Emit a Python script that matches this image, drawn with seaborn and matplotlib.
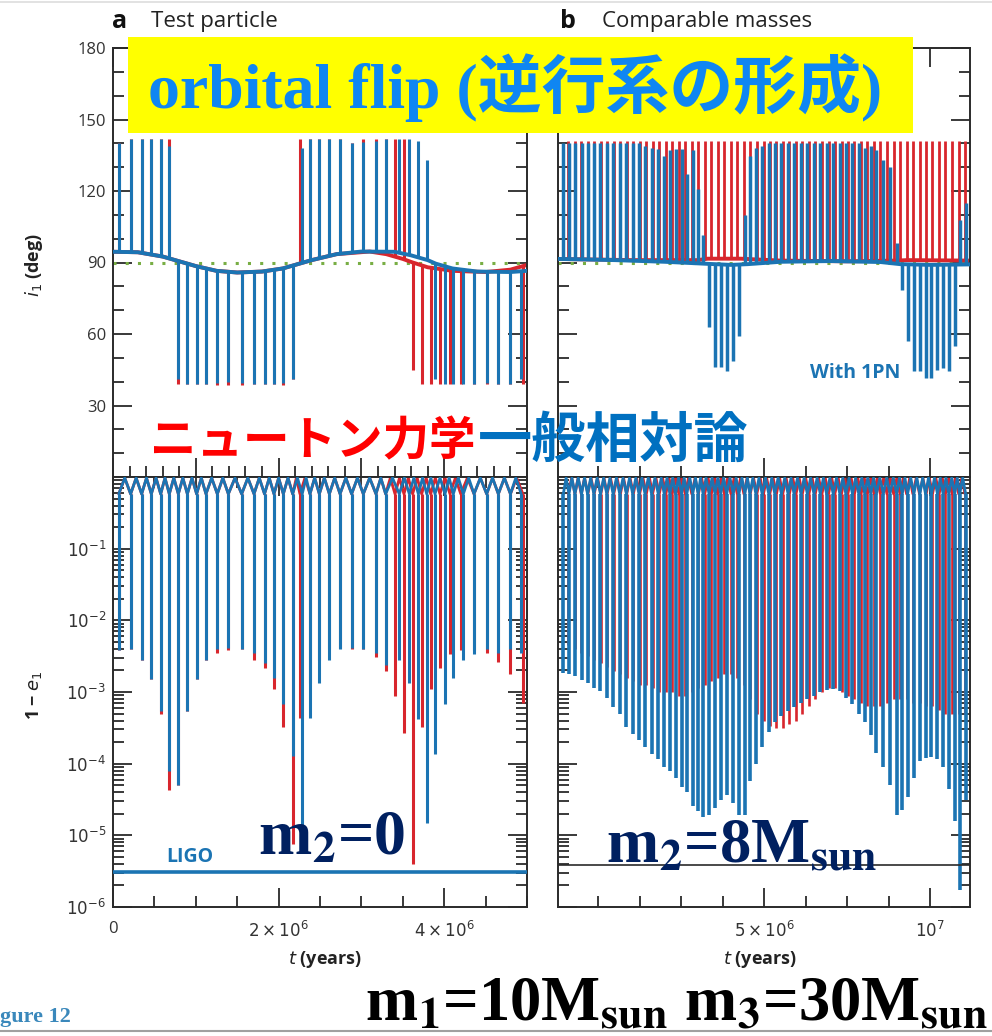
import numpy as np
import matplotlib
matplotlib.use("Agg")
import matplotlib.pyplot as plt
from matplotlib.patches import Rectangle
from matplotlib.ticker import LogLocator, NullFormatter, MultipleLocator, FixedLocator
import seaborn as sns

# ── data (time in units of 1e6 years) ─────────────────────────

# panel a, Newtonian (red) and with 1PN (blue): spike times,
# inclination extreme of each flip, log10(1-e) minimum of each spike
a_blue_t = [0.070, 0.213, 0.346, 0.463, 0.576, 0.680, 0.789, 0.898, 1.010, 1.123,
            1.260, 1.393, 1.554, 1.703, 1.830, 1.944, 2.057, 2.170, 2.285, 2.379,
            2.492, 2.613, 2.742, 2.882, 3.023, 3.176, 3.293, 3.458, 3.579, 3.688,
            3.789, 3.889, 4.010, 4.110, 4.231, 4.360, 4.513, 4.654, 4.800, 4.930]
a_blue_tip = [140, 142, 142, 142, 142, 139, 41, 39, 39, 39,
              39.5, 40, 39.5, 39, 39, 39, 39.5, 41, 138, 142,
              142, 142, 142, 140, 140.5, 141, 142, 142, 142, 141,
              133, 41, 39, 39, 39, 39, 39.5, 39, 39, 41]
a_blue_emin = [-2.42, -2.40, -2.56, -2.82, -3.26, -4.10, -4.30, -3.26, -2.82, -2.56,
               -2.40, -2.38, -2.40, -2.46, -2.60, -2.80, -3.17, -3.89, -4.95, -3.36,
               -2.87, -2.56, -2.40, -2.38, -2.40, -2.46, -2.62, -2.56, -2.87, -3.38,
               -4.83, -3.86, -3.17, -2.80, -2.56, -2.47, -2.40, -2.45, -2.40, -2.45]

a_red_t = [0.070, 0.213, 0.346, 0.463, 0.576, 0.680, 0.789, 0.898, 1.010, 1.123,
           1.260, 1.393, 1.554, 1.703, 1.830, 1.944, 2.057, 2.170, 2.258, 2.379,
           2.492, 2.613, 2.742, 2.882, 3.023, 3.176, 3.293, 3.406, 3.514, 3.619,
           3.728, 3.837, 3.949, 4.070, 4.200, 4.360, 4.513, 4.654, 4.800, 4.950]
a_red_tip = [140, 142, 142, 142, 142, 142, 39, 39, 39, 39,
             38.7, 38.7, 38.7, 39, 39, 39, 38.7, 41, 142, 142,
             142, 142, 142, 140, 142, 142, 142, 142, 142, 44.7,
             39, 39, 39, 39, 39, 39, 39, 39, 39, 39]
a_red_emin = [-2.42, -2.40, -2.56, -2.82, -3.30, -4.37, -4.30, -3.26, -2.82, -2.56,
              -2.45, -2.42, -2.40, -2.55, -2.66, -2.96, -3.49, -5.12, -3.36, -2.87,
              -2.56, -2.40, -2.38, -2.40, -2.40, -2.51, -2.70, -3.05, -3.57, -5.40,
              -3.49, -2.96, -2.66, -2.47, -2.42, -2.42, -2.45, -2.58, -2.75, -3.16]

# slow inclination trend between flips
a_blue_base_t = [0.0, 0.3, 0.6, 0.75, 0.85, 1.0, 1.25, 1.5, 1.8, 2.05, 2.25,
                 2.4, 2.7, 3.0, 3.4, 3.6, 3.8, 3.9, 4.1, 4.4, 4.8, 5.0]
a_blue_base = [94.5, 94.3, 92.5, 91.0, 90.0, 88.5, 86.5, 85.8, 86.2, 87.5, 89.5,
               91.0, 93.5, 94.6, 94.5, 93.0, 91.0, 89.5, 87.5, 86.2, 86.0, 86.5]
a_red_base_t = [0.0, 0.3, 0.6, 0.75, 0.85, 1.0, 1.25, 1.5, 1.8, 2.05, 2.25,
                2.4, 2.7, 3.1, 3.3, 3.5, 3.62, 3.8, 4.1, 4.5, 4.8, 5.0]
a_red_base = [94.5, 94.3, 92.5, 91.0, 90.0, 88.5, 86.5, 85.8, 86.2, 87.5, 89.5,
              91.0, 93.5, 94.6, 93.5, 91.5, 90.0, 88.0, 86.5, 86.0, 87.0, 89.0]

# panel b, comparable masses
b_blue_t = [-1.05, -0.88, -0.70, -0.50, -0.32, -0.13, 0.07, 0.26, 0.45, 0.65,
            0.85, 1.04, 1.23, 1.41, 1.61, 1.81, 1.99, 2.16, 2.33, 2.51,
            2.67, 2.85, 3.01, 3.16, 3.34, 3.52, 3.69, 3.87, 4.07, 4.24,
            4.42, 4.57, 4.75, 4.94, 5.14, 5.32, 5.52, 5.72, 5.90, 6.11,
            6.30, 6.50, 6.69, 6.88, 7.08, 7.28, 7.46, 7.66, 7.85, 8.03,
            8.21, 8.38, 8.59, 8.79, 8.99, 9.16, 9.32, 9.51, 9.69, 9.86,
            10.04, 10.22, 10.39, 10.56, 10.74, 10.89, 11.07]
b_blue_tip = [140, 140, 140, 140, 140, 140, 140, 140, 140, 140,
              140, 140, 140, 139, 138, 137.5, 134.5, 137, 137.5, 137.5,
              127, 137, 121, 101.6, 63, 46, 46, 44.5, 48.5, 59,
              110, 134.5, 138, 139, 140, 140, 140, 140, 140, 140,
              140, 140, 140, 140, 140, 140, 140, 140, 140, 138,
              139, 137, 133, 130, 98, 78.6, 57, 44.4, 44.4, 41.5,
              41.5, 45, 45.8, 44.4, 54.8, 108, 115]
b_blue_emin = [-2.73, -2.75, -2.78, -2.83, -2.88, -2.94, -2.98, -3.08, -3.21, -3.31,
               -3.49, -3.58, -3.67, -3.77, -3.87, -3.94, -4.04, -4.10, -4.20, -4.33,
               -4.40, -4.59, -4.66, -4.75, -4.72, -4.62, -4.50, -4.44, -4.55, -4.72,
               -4.72, -4.24, -4.00, -3.77, -3.56, -3.42, -3.33, -3.26, -3.21, -3.15,
               -3.10, -3.05, -3.00, -2.97, -2.96, -2.99, -3.08, -3.17, -3.30, -3.42,
               -3.60, -3.85, -4.05, -4.30, -4.72, -4.65, -4.46, -4.20, -3.96, -3.92,
               -3.90, -3.93, -4.05, -4.35, -4.80, -5.76, -4.50]

b_red_t = [-0.90, -0.70, -0.51, -0.31, -0.12, 0.08, 0.27, 0.47, 0.67, 0.86,
           1.06, 1.25, 1.45, 1.64, 1.84, 2.04, 2.23, 2.43, 2.62, 2.82,
           3.02, 3.21, 3.41, 3.60, 3.80, 4.00, 4.19, 4.39, 4.58, 4.78,
           4.98, 5.17, 5.37, 5.56, 5.76, 5.96, 6.15, 6.35, 6.54, 6.74,
           6.94, 7.13, 7.33, 7.52, 7.72, 7.92, 8.11, 8.31, 8.50, 8.70,
           8.90, 9.09, 9.29, 9.48, 9.68, 9.88, 10.07, 10.27, 10.46, 10.66,
           10.86, 11.05]
b_red_tip = [141, 141, 141, 141, 141, 141, 141, 141, 141, 141,
             141, 141, 141, 141, 141, 141, 141, 141, 141, 141,
             141, 141, 141, 141, 141, 141, 141, 141, 141, 141,
             141, 141, 141, 141, 141, 141, 141, 141, 141, 141,
             141, 141, 141, 141, 141, 141, 141, 141, 141, 141,
             141, 141, 141, 141, 141, 141, 141, 141, 141, 141,
             141, 141]
b_red_emin = [-2.35, -2.40, -2.45, -2.50, -2.55, -2.60, -2.65, -2.70, -2.75, -2.80,
              -2.85, -2.90, -2.90, -2.95, -3.00, -3.00, -3.00, -3.05, -3.05, -3.00,
              -2.95, -2.90, -2.85, -2.80, -2.75, -2.75, -2.80, -2.90, -3.10, -3.30,
              -3.40, -3.48, -3.50, -3.50, -3.45, -3.40, -3.30, -3.20, -3.10, -3.00,
              -2.95, -2.95, -3.00, -3.05, -3.10, -3.15, -3.20, -3.20, -3.20, -3.15,
              -3.10, -3.10, -3.10, -3.15, -3.15, -3.20, -3.20, -3.25, -3.30, -3.30,
              -3.30, -3.30]

b_blue_base_t = [-1.21, 0.5, 2.0, 3.2, 4.0, 4.5, 5.5, 7.0, 8.5, 9.1, 10.0, 11.2]
b_blue_base = [91.5, 91.0, 90.3, 89.5, 89.0, 89.3, 90.3, 90.6, 90.2, 89.3, 89.0, 89.2]
b_red_base_t = [-1.21, 1.0, 3.0, 3.3, 4.3, 5.5, 7.5, 9.0, 9.3, 11.2]
b_red_base = [91.5, 91.0, 91.0, 91.6, 91.6, 90.8, 90.5, 90.8, 91.0, 90.8]

ligo_level = 3.1e-6
b_ref_level = 3.9e-6

RED = "#d8262d"
BLUE = "#1b74b3"
GREEN = "#78ae44"
INK = "#2a2a2a"

W, H = 992, 1036

sns.set_theme(style="white")
plt.rcParams["font.family"] = ["Open Sans", "DejaVu Sans"]
plt.rcParams["axes.edgecolor"] = INK
plt.rcParams["axes.linewidth"] = 1.4

fig = plt.figure(figsize=(W / 100, H / 100), dpi=100)


def box(left, top, right, bottom):
    return [left / W, 1 - bottom / H, (right - left) / W, (bottom - top) / H]


ax_a1 = fig.add_axes(box(113, 48, 527, 477))
ax_a2 = fig.add_axes(box(113, 477, 527, 907))
ax_b1 = fig.add_axes(box(558, 48, 970, 477))
ax_b2 = fig.add_axes(box(558, 477, 970, 907))


def draw_incl(ax, t, tip, bt, bv, color, z, lw=2.2):
    t = np.asarray(t)
    base = np.interp(t, bt, bv)
    ax.vlines(t, base, tip, color=color, lw=lw, zorder=z)
    sns.lineplot(x=bt, y=bv, ax=ax, color=color, lw=2.8, zorder=z,
                 estimator=None, legend=False)


def draw_ecc(ax, t, emin, color, z, lw=2.2):
    t = np.asarray(t)
    lo = 10.0 ** np.asarray(emin)
    ax.vlines(t, lo, 0.58, color=color, lw=lw, zorder=z)
    # little arches between the eccentricity spikes, near e = 0
    mids = (t[:-1] + t[1:]) / 2
    xs = np.concatenate([t, mids])
    ys = np.concatenate([np.full(t.size, 0.58), np.full(mids.size, 0.97)])
    order = np.argsort(xs)
    sns.lineplot(x=xs[order], y=ys[order], ax=ax, color=color, lw=2.0,
                 zorder=z, estimator=None, sort=False, legend=False)


for ax in (ax_a1, ax_b1):
    ax.axhline(90, color=GREEN, lw=2.2, ls=(0, (1, 3)), zorder=1)

draw_incl(ax_a1, a_red_t, a_red_tip, a_red_base_t, a_red_base, RED, 2)
draw_incl(ax_a1, a_blue_t, a_blue_tip, a_blue_base_t, a_blue_base, BLUE, 3)
draw_incl(ax_b1, b_red_t, b_red_tip, b_red_base_t, b_red_base, RED, 2, lw=2.0)
draw_incl(ax_b1, b_blue_t, b_blue_tip, b_blue_base_t, b_blue_base, BLUE, 3, lw=2.5)

draw_ecc(ax_a2, a_red_t, a_red_emin, RED, 2)
draw_ecc(ax_a2, a_blue_t, a_blue_emin, BLUE, 3)
draw_ecc(ax_b2, b_red_t, b_red_emin, RED, 2, lw=1.9)
draw_ecc(ax_b2, b_blue_t, b_blue_emin, BLUE, 3, lw=2.6)

ax_a2.axhline(ligo_level, color=BLUE, lw=2.6, zorder=4)
ax_b2.axhline(b_ref_level, color=INK, lw=1.2, zorder=4)

# ── axes, ticks ──────────────────────────────────────────────
for ax in (ax_a1, ax_b1):
    ax.set_ylim(0, 180)
    ax.yaxis.set_major_locator(FixedLocator([30, 60, 90, 120, 150, 180]))
    ax.yaxis.set_minor_locator(MultipleLocator(10))

for ax in (ax_a2, ax_b2):
    ax.set_yscale("log")
    ax.set_ylim(1e-6, 1)
    ax.yaxis.set_major_locator(FixedLocator([1e-6, 1e-5, 1e-4, 1e-3, 1e-2, 1e-1]))
    ax.yaxis.set_minor_locator(LogLocator(base=10, subs=np.arange(2, 10), numticks=30))
    ax.yaxis.set_minor_formatter(NullFormatter())

for ax in (ax_a1, ax_a2):
    ax.set_xlim(0, 5)
ax_a1.xaxis.set_major_locator(MultipleLocator(1))
ax_a1.xaxis.set_minor_locator(MultipleLocator(0.2))
ax_a2.xaxis.set_major_locator(FixedLocator([0, 2, 4]))
ax_a2.xaxis.set_minor_locator(MultipleLocator(0.5))

for ax in (ax_b1, ax_b2):
    ax.set_xlim(-1.21, 11.2)
    ax.xaxis.set_major_locator(FixedLocator([5, 10]))
    ax.xaxis.set_minor_locator(MultipleLocator(1.25))

for ax in (ax_a1, ax_a2, ax_b1, ax_b2):
    ax.set_facecolor("white")
    ax.tick_params(which="both", direction="in", top=True, right=True,
                   bottom=True, left=True, color=INK, width=1.3,
                   labelsize=12, labelcolor="#333333", pad=5)
    ax.tick_params(which="major", length=14)
    ax.tick_params(which="minor", length=8)
    ax.set_xlabel("")
    ax.set_ylabel("")

ax_a1.set_yticklabels(["30", "60", "90", "120", "150", "180"])
ax_a2.set_yticklabels([r"$10^{-6}$", r"$10^{-5}$", r"$10^{-4}$",
                       r"$10^{-3}$", r"$10^{-2}$", r"$10^{-1}$"])
ax_a2.set_xticklabels(["0", r"$2\times10^{6}$", r"$4\times10^{6}$"])
ax_b2.set_xticklabels([r"$5\times10^{6}$", r"$10^{7}$"])
ax_a1.tick_params(labelbottom=False)
ax_b1.tick_params(labelbottom=False, labelleft=False)
ax_b2.tick_params(labelleft=False)
ax_a2.tick_params(axis="x", pad=10)
ax_b2.tick_params(axis="x", pad=10)


def px(x, y):
    return x / W, 1 - y / H


# panel headers and axis titles
fig.text(*px(112, 22), "a", fontsize=18, fontweight="bold", color="#111", va="center")
fig.text(*px(151, 22), "Test particle", fontsize=16, color="#222", va="center")
fig.text(*px(560, 22), "b", fontsize=18, fontweight="bold", color="#111", va="center")
fig.text(*px(602, 22), "Comparable masses", fontsize=16, color="#222", va="center")
fig.text(*px(34, 265), r"$i_1$ (deg)", rotation=90, fontsize=13, fontweight="bold",
         color="#222", ha="center", va="center")
fig.text(*px(34, 695), r"1 − $e_1$", rotation=90, fontsize=13, fontweight="bold",
         color="#222", ha="center", va="center")
fig.text(*px(325, 960), r"$t$ (years)", fontsize=13, fontweight="bold",
         color="#222", ha="center", va="center")
fig.text(*px(760, 960), r"$t$ (years)", fontsize=13, fontweight="bold",
         color="#222", ha="center", va="center")
fig.text(*px(190, 857), "LIGO", fontsize=14, fontweight="bold", color=BLUE,
         ha="center", va="center")
fig.text(*px(855, 373), "With 1PN", fontsize=14, fontweight="bold", color=BLUE,
         ha="center", va="center")

# slide annotations
fig.patches.append(Rectangle(px(128, 133), (913 - 128) / W, (133 - 37) / H,
                             transform=fig.transFigure, facecolor="#ffff00",
                             edgecolor="none", zorder=5))
fig.text(*px(148, 88), "orbital flip (逆行系の形成)", fontsize=46, fontweight="bold",
         color="#0f86f2", family=["Liberation Serif", "Noto Sans CJK JP"],
         va="center", ha="left", zorder=6)
fig.text(*px(150, 441), "ニュートン力学", fontsize=33.5, fontweight="bold",
         color="#ff0000", family=["Noto Sans CJK JP"], va="center", ha="left", zorder=6)
fig.text(*px(478, 441), "一般相対論", fontsize=39, fontweight="bold",
         color="#0070c0", family=["Noto Sans CJK JP"], va="center", ha="left", zorder=6)

serif_bold = dict(family=["Liberation Serif"], fontweight="bold",
                  math_fontfamily="stix", va="baseline", ha="left", zorder=6)
fig.text(*px(258, 855), r"m$_\mathbf{2}$=0", fontsize=46, color="#002060", **serif_bold)
fig.text(*px(606, 862), r"m$_\mathbf{2}$=8M$_\mathbf{sun}$", fontsize=45,
         color="#002060", **serif_bold)
fig.text(*px(365, 1020), r"m$_\mathbf{1}$=10M$_\mathbf{sun}$ m$_\mathbf{3}$=30M$_\mathbf{sun}$",
         fontsize=45, color="black", **serif_bold)
fig.text(*px(0, 1022), "gure 12", fontsize=16, fontweight="bold", color="#3a88bb",
         family=["Liberation Serif"], va="baseline", ha="left")
fig.add_artist(plt.Line2D([0, 1], [1 - 1031 / H, 1 - 1031 / H], color="#a0a0a0",
                          lw=1.5, transform=fig.transFigure))
fig.add_artist(plt.Line2D([0, 1], [1 - 2 / H, 1 - 2 / H], color="#dddddd",
                          lw=1.2, transform=fig.transFigure))

fig.savefig("out.png", dpi=100, facecolor="white")
